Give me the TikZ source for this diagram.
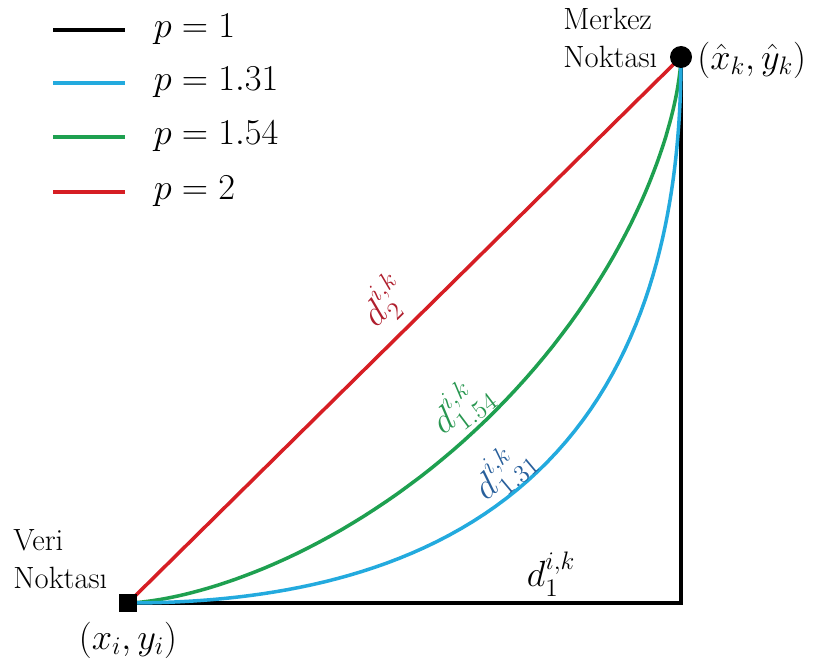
\documentclass[tikz,border=0pt]{standalone}
\usepackage{fontspec}
\usepackage{amsmath}
\usetikzlibrary{positioning,calc}

\definecolor{pred}{RGB}{214,30,36}
\definecolor{pblue}{RGB}{35,170,222}
\definecolor{pgreen}{RGB}{30,160,80}
\definecolor{lblred}{RGB}{175,30,45}
\definecolor{lblgreen}{RGB}{40,150,80}
\definecolor{lblblue}{RGB}{40,95,155}

\begin{document}
\begin{tikzpicture}[x=0.02cm, y=0.02cm, font=\fontsize{17.5}{21.5}\selectfont,
    every text node part/.style={align=left},
    curve/.style={line width=2pt},
    legline/.style={line width=2.2pt},
    mathtext/.style={font=\fontsize{21}{25}\selectfont},
    legtext/.style={mathtext, anchor=base west, inner sep=0pt, text=black}]
    \useasboundingbox (0,0) rectangle (827,670);

    % legend
    \draw [legline, black] (53,640) -- (125,640) node[legtext] at (152,632) {$p = 1$};
    \draw [legline, pblue] (53,587) -- (125,587) node[legtext] at (152,579) {$p = 1.31$};
    \draw [legline, pgreen] (53,533) -- (125,533) node[legtext] at (152,525) {$p = 1.54$};
    \draw [legline, pred] (53,478) -- (125,478) node[legtext] at (152,470) {$p = 2$};

    % points
    \coordinate (veri) at (128,67);
    \coordinate (merkez) at (681,613);

    \draw [curve, pred] (veri) -- (merkez);
    \draw [line width=2.4pt, black] (veri) -| (merkez);
    \draw [curve, pgreen] plot[domain=0:90, samples=90, variable=\t]
        ({128+553*(1-pow(abs(cos(\t)),3.08))}, {67+546*pow(abs(sin(\t)),3.08)});
    \draw [curve, pblue] plot[domain=0:90, samples=90, variable=\t]
        ({128+553*(1-pow(abs(cos(\t)),4))}, {67+546*pow(abs(sin(\t)),4)});

    \node [fill=black, minimum size=0.36cm, inner sep=0pt] (sq) at (veri) {};
    \node [fill=black, circle, minimum size=0.44cm, inner sep=0pt] (dot) at (merkez) {};

    % labels
    \node [mathtext, text=lblred, rotate=44.6] (dred) at (385,368) {$d_2^{i,k}$};
    \node [mathtext, text=lblgreen, rotate=37] (dgreen) at (461,264) {$d_{1.54}^{i,k}$};
    \node [mathtext, text=lblblue, rotate=40] (dblue) at (503,199) {$d_{1.31}^{i,k}$};
    \node [mathtext] (done) at (551,96) {$d_1^{i,k}$};

    \node [anchor=north west, inner sep=0pt] (merkezlbl) at (563,662) {Merkez\\Noktası};
    \node [mathtext, anchor=west, inner sep=0pt] (merkezxy) at (697,610) {$(\hat{x}_k, \hat{y}_k)$};
    \node [anchor=north west, inner sep=0pt] (verilbl) at (13,141) {Veri\\Noktası};
    \node [mathtext] (verixy) at (128,30) {$(x_i, y_i)$};
\end{tikzpicture}
\end{document}
